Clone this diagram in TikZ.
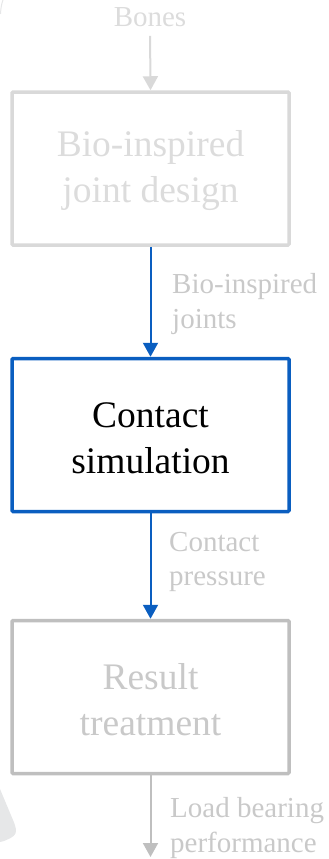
\documentclass[tikz,border=0pt]{standalone}
\usepackage{fontspec}
\setmainfont{Liberation Serif}
\usetikzlibrary{arrows.meta}
\definecolor{paleA}{HTML}{D9D9D9}
\definecolor{paleText}{HTML}{DCDCDC}
\definecolor{midGrey}{HTML}{BFBFBF}
\definecolor{labelGrey}{HTML}{C9C9C9}
\definecolor{flowBlue}{HTML}{0A5EC0}
\definecolor{shadeGrey}{HTML}{E6E7E8}
% strut that lowers the two-line box texts slightly
\newcommand{\firstlinestrut}{\rule{0pt}{31pt}}
\tikzset{
  stagebox/.style={draw, line width=3.5pt, rounded corners=1pt,
    minimum width=277pt, minimum height=153pt, align=center,
    font=\fontsize{37.5}{46}\selectfont},
  flowlabel/.style={anchor=west, align=left, inner sep=0pt,
    font=\fontsize{29}{34.5}\selectfont},
  flowarrow/.style={line width=2pt, -{Triangle[length=14pt,width=15pt]}}
}
\begin{document}
\begin{tikzpicture}[x=1pt,y=-1pt]
\useasboundingbox (0,0) rectangle (329,859);
% partial shapes at the left edge
\fill[shadeGrey] (0,789) -- (13,820) .. controls (19,834) and (16,836) .. (4,841) -- (0,842) -- cycle;
\draw[shadeGrey, line width=1pt] (0.5,14) .. controls (0.8,8) and (1.5,4) .. (3,0);
% stages
\node[stagebox, draw=paleA, text=paleText] (b1) at (150.5,168.5) {\firstlinestrut Bio-inspired\\joint design};
\node[stagebox, draw=flowBlue, text=black] (b2) at (150.5,435) {\firstlinestrut Contact\\simulation};
\node[stagebox, draw=midGrey, text=labelGrey] (b3) at (150.5,697) {\firstlinestrut Result\\treatment};
% inputs and outputs
\node[font=\fontsize{29}{34}\selectfont, text=paleText, inner sep=0pt] (bones) at (150,17) {Bones};
\coordinate (out) at (150.5,857);
% connectors
\draw[flowarrow, paleA, shorten <=9pt] (bones.south) -- (b1.north);
\draw[flowarrow, flowBlue] (b1.south) -- (b2.north);
\draw[flowarrow, flowBlue] (b2.south) -- (b3.north);
\draw[flowarrow, midGrey] (b3.south) -- (out);
% connector labels
\node[flowlabel, text=labelGrey] (l1) at (172,304) {Bio-inspired\\joints};
\node[flowlabel, text=labelGrey] (l2) at (169,562) {Contact\\pressure};
\node[flowlabel, text=labelGrey] (l3) at (170,828) {Load bearing\\performance};
\end{tikzpicture}
\end{document}
